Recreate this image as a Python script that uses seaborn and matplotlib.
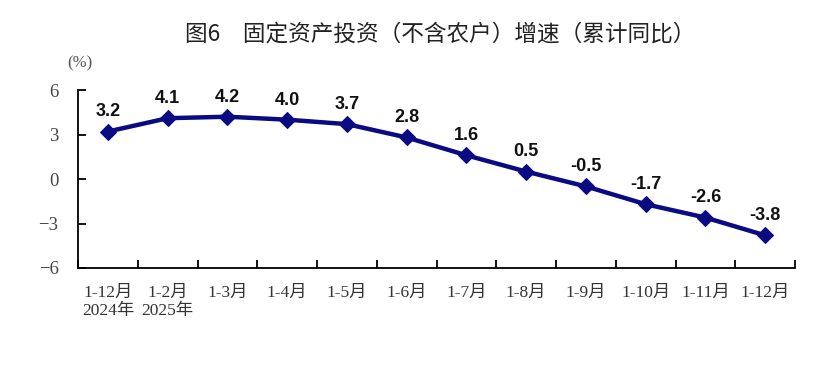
import numpy as np
import pandas as pd
import seaborn as sns
import matplotlib.pyplot as plt

# Data
months = ["1-12月\n2024年", "1-2月\n2025年", "1-3月", "1-4月", "1-5月", "1-6月",
          "1-7月", "1-8月", "1-9月", "1-10月", "1-11月", "1-12月"]
growth = [3.2, 4.1, 4.2, 4.0, 3.7, 2.8, 1.6, 0.5, -0.5, -1.7, -2.6, -3.8]
yticks = [-6, -3, 0, 3, 6]

df = pd.DataFrame({"pos": np.arange(len(months)), "growth": growth})

sns.set_style("white")
plt.rcParams["font.family"] = ["Liberation Serif", "Noto Sans CJK SC", "DejaVu Sans"]
plt.rcParams["axes.unicode_minus"] = True

fig = plt.figure(figsize=(8.22, 3.87), dpi=100)
ax = fig.add_axes([0.0949, 0.3075, 0.9672 - 0.0949, 0.7674 - 0.3075])

navy = "#0a0a82"
sns.lineplot(data=df, x="pos", y="growth", ax=ax, color=navy, linewidth=3.2,
             marker="D", markersize=8.5, markeredgecolor=navy)

# value labels above each point
for x, y in zip(df["pos"], df["growth"]):
    ax.text(x, y + 0.75, f"{y:.1f}", ha="center", va="bottom", fontsize=13,
            fontweight="bold", family=["Liberation Sans", "DejaVu Sans"], color="#111111")

ax.set_xlim(-0.5, len(months) - 0.5)
ax.set_ylim(-6, 6)
ax.set_yticks(yticks)
ax.set_yticklabels([str(t).replace("-", "\u2212") for t in yticks])
ax.set_xticks(df["pos"])
ax.set_xticklabels(months, linespacing=1.2)
ax.set_xticks(np.arange(-0.5, len(months)), minor=True)
ax.tick_params(axis="both", which="both", bottom=True, left=True)
ax.tick_params(axis="x", which="major", length=0, pad=12, labelsize=12.5, colors="#333333")
ax.tick_params(axis="x", which="minor", length=6, width=1.3, direction="in", color="black")
ax.tick_params(axis="y", length=6, width=1.3, direction="in", labelsize=13.5,
               labelcolor="#444444", color="black", pad=14)

ax.set_xlabel("")
ax.set_ylabel("")
for s in ["top", "right"]:
    ax.spines[s].set_visible(False)
for s in ["left", "bottom"]:
    ax.spines[s].set_linewidth(1.3)
    ax.spines[s].set_color("black")

fig.text(0.097, 0.835, "(%)", ha="center", va="center", fontsize=12, color="#555555")
fig.text(0.535, 0.912, "图6　固定资产投资（不含农户）增速（累计同比）", ha="center",
         va="center", fontsize=16.3, family=["Noto Sans CJK SC", "DejaVu Sans"],
         color="#222222")

fig.savefig("out.png", dpi=100)
